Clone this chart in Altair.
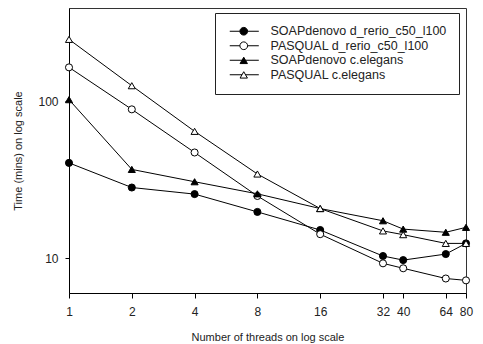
import altair as alt
import pandas as pd

threads = [1, 2, 4, 8, 16, 32, 40, 64, 80]
series_names = [
    "SOAPdenovo d_rerio_c50_l100",
    "PASQUAL d_rerio_c50_l100",
    "SOAPdenovo c.elegans",
    "PASQUAL c.elegans",
]
soap_drerio = [40.5, 28.2, 25.6, 19.7, 15.1, 10.3, 9.7, 10.6, 12.4]
pasqual_drerio = [165, 89, 47.2, 24.9, 14.2, 9.25, 8.6, 7.4, 7.2]
soap_celegans = [102.6, 36.8, 30.7, 25.7, 20.7, 17.3, 15.3, 14.6, 15.7]
pasqual_celegans = [249, 126, 64.4, 34.4, 20.7, 14.9, 14.1, 12.4, 12.4]

x_ticks = [1, 2, 4, 8, 16, 32, 40, 64, 80]
y_ticks = [10, 100]

fills = ["black", "white", "black", "white"]
plot_shapes = ["circle", "circle", "triangle-up", "triangle-up"]
# legend symbols: marker with a short line through it
circ = "M -1 0 L 1.9 0 M 4.1 0 L 7.3 0 M 4.1 0 A 1.05 1.05 0 1 1 1.9 0 A 1.05 1.05 0 1 1 4.1 0 Z"
tri = "M -1 0 L 2.5 0 M 3.5 0 L 7.3 0 M 3 -0.87 L 1.95 0.95 L 4.05 0.95 Z"
legend_shapes = [circ, circ, tri, tri]

rows = []
for name, vals in zip(series_names, [soap_drerio, pasqual_drerio, soap_celegans, pasqual_celegans]):
    for t, v in zip(threads, vals):
        rows.append({"threads": t, "time": v, "series": name})
df = pd.DataFrame(rows)

FONT = "Liberation Sans"

x = alt.X("threads:Q",
          scale=alt.Scale(type="log", domain=[1, 80], nice=False),
          axis=alt.Axis(values=x_ticks, format="d", title="Number of threads on log scale",
                        grid=False, tickSize=5, labelPadding=8, titlePadding=14,
                        labelFlush=False, labelOverlap=False,
                        domainColor="black", tickColor="black"))
y = alt.Y("time:Q",
          scale=alt.Scale(type="log", domain=[5.98, 395], nice=False),
          axis=alt.Axis(values=y_ticks, format="d", title="Time (mins) on log scale",
                        grid=False, tickSize=4, labelPadding=7, titlePadding=14,
                        labelFlush=False,
                        domainColor="black", tickColor="black"))

base = alt.Chart(df)

lines = base.mark_line(color="black", strokeWidth=1).encode(
    x=x, y=y, detail="series:N", order="threads:Q"
)

points = base.mark_point(filled=True, stroke="black", strokeWidth=1, size=50, opacity=1).encode(
    x=x, y=y,
    shape=alt.Shape("series:N", scale=alt.Scale(domain=series_names, range=plot_shapes), legend=None),
    fill=alt.Fill("series:N", scale=alt.Scale(domain=series_names, range=fills), legend=None),
)

leg = alt.Legend(
    title=None, orient="none", legendX=146, legendY=5,
    symbolSize=49, symbolStrokeWidth=1,
    labelFont=FONT, labelFontSize=12.5, labelColor="#222", labelOffset=31,
    labelExpr="datum.label + '\u00a0\u00a0\u00a0\u00a0\u00a0\u00a0'",
    strokeColor="#222", padding=12, rowPadding=1.5, labelLimit=300,
)

legend_layer = base.transform_filter("datum.time < 0").mark_point(
    filled=True, stroke="black", strokeWidth=1, size=49, opacity=1
).encode(
    x=x, y=y,
    shape=alt.Shape("series:N", scale=alt.Scale(domain=series_names, range=legend_shapes), legend=leg),
    fill=alt.Fill("series:N", scale=alt.Scale(domain=series_names, range=fills), legend=leg),
)

chart = alt.layer(alt.layer(lines, points), legend_layer).resolve_scale(
    shape="independent", fill="independent"
).properties(
    width=397, height=285,
    autosize=alt.AutoSizeParams(type="none"),
    padding={"left": 61, "top": 0, "right": 8, "bottom": 50},
).configure_view(
    stroke="#333", strokeWidth=1
).configure_axis(
    labelFont=FONT, titleFont=FONT, labelFontSize=12, titleFontSize=11,
    labelColor="#222", titleColor="#222", titleFontWeight="normal",
)

chart.save("out.html", embed_options={"renderer": "svg", "actions": False})
